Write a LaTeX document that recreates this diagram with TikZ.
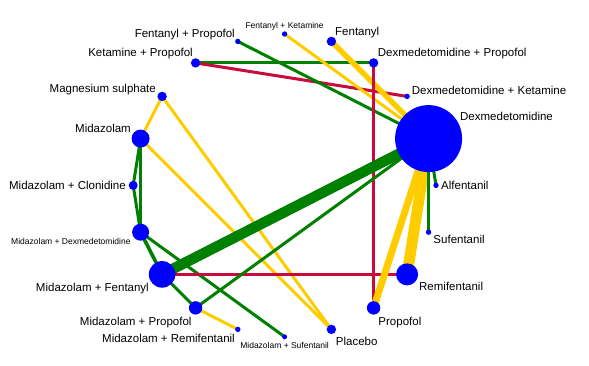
\documentclass[tikz,border=0pt]{standalone}
\usepackage{fontspec}
\setmainfont{Liberation Sans}
\usetikzlibrary{backgrounds}
\definecolor{netgreen}{RGB}{0,128,0}
\definecolor{netyellow}{RGB}{255,204,0}
\definecolor{netred}{RGB}{200,10,60}
\tikzset{
  drug/.style={circle,fill=blue,inner sep=0pt,minimum size=#1pt},
  lbl/.style={font=\fontsize{11.5}{13}\selectfont,inner sep=0pt},
  smalllbl/.style={font=\fontsize{8.5}{10}\selectfont,inner sep=0pt},
  grn/.style={draw=netgreen,line width=#1pt}, grn/.default=3,
  ylw/.style={draw=netyellow,line width=#1pt}, ylw/.default=3,
  rd/.style={draw=netred,line width=#1pt}, rd/.default=3
}

\begin{document}
\begin{tikzpicture}[x=1pt,y=1pt]
  \useasboundingbox (0,0) rectangle (589,366);
  \begin{scope}[shift={(284.6,180.6)}]
    \node[drug=5.4] (fk) at (90:151.4) {};
    \node[drug=9.4] (fen) at (72:151.4) {};
    \node[drug=9.4] (dxp) at (54:151.4) {};
    \node[drug=5.4] (dxk) at (36:151.4) {};
    \node[drug=67] (dex) at (18:151.4) {};
    \node[drug=5.4] (alf) at (0:151.4) {};
    \node[drug=5.4] (suf) at (-18:151.4) {};
    \node[drug=22] (remi) at (-36:151.4) {};
    \node[drug=13.4] (prop) at (-54:151.4) {};
    \node[drug=9.4] (plac) at (-72:151.4) {};
    \node[drug=5] (msuf) at (-90:151.4) {};
    \node[drug=5.4] (mremi) at (-108:151.4) {};
    \node[drug=13.4] (mprop) at (-126:151.4) {};
    \node[drug=26.6] (mfen) at (-144:151.4) {};
    \node[drug=17] (mdex) at (-162:151.4) {};
    \node[drug=9] (clon) at (180:151.4) {};
    \node[drug=18] (mid) at (162:151.4) {};
    \node[drug=9.4] (mags) at (144:151.4) {};
    \node[drug=9.4] (kp) at (126:151.4) {};
    \node[drug=5.4] (fp) at (108:151.4) {};
  \end{scope}

  \node[smalllbl,anchor=base] (fk-l) at ([shift={(0,5.7)}]fk.center) {Fentanyl + Ketamine};
  \node[lbl,anchor=base west] (fen-l) at ([shift={(3.6,6.4)}]fen.center) {Fentanyl};
  \node[lbl,anchor=base west] (dxp-l) at ([shift={(4.1,6.2)}]dxp.center) {Dexmedetomidine + Propofol};
  \node[lbl,anchor=base west] (dxk-l) at ([shift={(4.6,2.4)}]dxk.center) {Dexmedetomidine + Ketamine};
  \node[lbl,anchor=base west] (dex-l) at ([shift={(31.4,18.3)}]dex.center) {Dexmedetomidine};
  \node[lbl,anchor=base west] (alf-l) at ([shift={(5,-4.6)}]alf.center) {Alfentanil};
  \node[lbl,anchor=base west] (suf-l) at ([shift={(4.7,-11.8)}]suf.center) {Sufentanil};
  \node[lbl,anchor=base west] (remi-l) at ([shift={(11.9,-16.3)}]remi.center) {Remifentanil};
  \node[lbl,anchor=base west] (prop-l) at ([shift={(4.7,-17.4)}]prop.center) {Propofol};
  \node[lbl,anchor=base west] (plac-l) at ([shift={(4.3,-15.9)}]plac.center) {Placebo};
  \node[smalllbl,anchor=base] (msuf-l) at ([shift={(0,-11.5)}]msuf.center) {Midazolam + Sufentanil};
  \node[lbl,anchor=base east] (mremi-l) at ([shift={(-2.8,-13.3)}]mremi.center) {Midazolam + Remifentanil};
  \node[lbl,anchor=base east] (mprop-l) at ([shift={(-3.9,-17.4)}]mprop.center) {Midazolam + Propofol};
  \node[lbl,anchor=base east] (mfen-l) at ([shift={(-13.1,-17.3)}]mfen.center) {Midazolam + Fentanyl};
  \node[smalllbl,anchor=base east] (mdex-l) at ([shift={(-9.9,-12.1)}]mdex.center) {Midazolam + Dexmedetomidine};
  \node[lbl,anchor=base east] (clon-l) at ([shift={(-7.2,-4.6)}]clon.center) {Midazolam + Clonidine};
  \node[lbl,anchor=base east] (mid-l) at ([shift={(-9.6,5.9)}]mid.center) {Midazolam};
  \node[lbl,anchor=base east] (mags-l) at ([shift={(-6.1,3.7)}]mags.center) {Magnesium sulphate};
  \node[lbl,anchor=base east] (kp-l) at ([shift={(-2.6,6.2)}]kp.center) {Ketamine + Propofol};
  \node[lbl,anchor=base east] (fp-l) at ([shift={(-2.8,3.9)}]fp.center) {Fentanyl + Propofol};

  \begin{pgfonlayer}{background}
    \path
      (kp.center) edge[grn] (dxp.center)
                  edge[rd] (dxk.center)
      (fp.center) edge[grn] (dex.center)
      (fk.center) edge[ylw] (dex.center)
      (fen.center) edge[ylw=5.5] (dex.center)
      (dxp.center) edge[rd] (prop.center)
      (mags.center) edge[ylw] (mid.center)
                    edge[ylw] (plac.center)
      (mid.center) edge[ylw] (plac.center)
                   edge[grn] (clon.center)
                   edge[grn=3.6] (mdex.center)
      (clon.center) edge[grn] (mdex.center)
      (mdex.center) edge[grn=3.6] (mfen.center)
                    edge[grn] (msuf.center)
      (mfen.center) edge[grn=10.5] (dex.center)
                    edge[rd] (remi.center)
                    edge[grn] (mprop.center)
      (mprop.center) edge[grn] (dex.center)
                     edge[ylw] (mremi.center)
      (dex.center) edge[ylw=11] (remi.center)
                   edge[ylw=7] (prop.center)
                   edge[grn] (alf.center)
                   edge[grn] (suf.center);
  \end{pgfonlayer}
\end{tikzpicture}
\end{document}
